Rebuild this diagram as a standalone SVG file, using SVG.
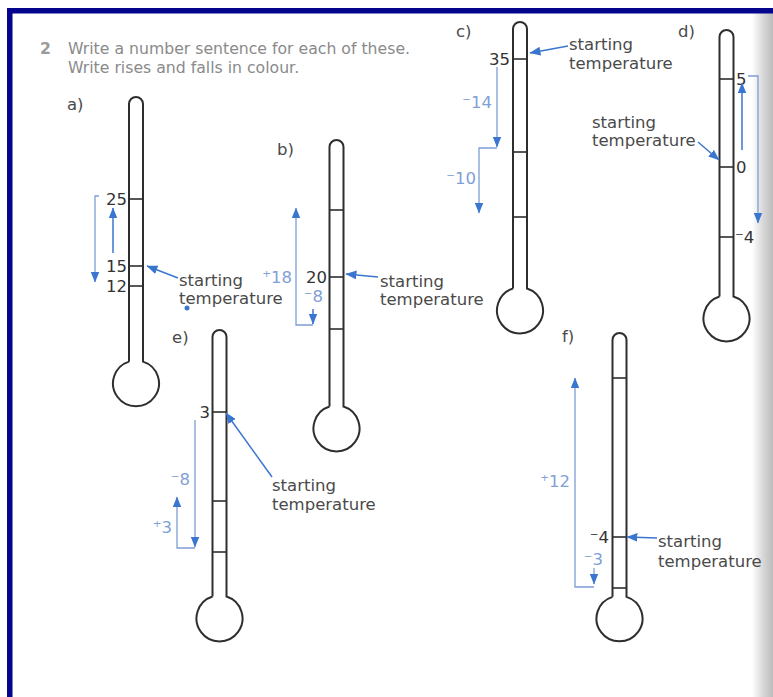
<svg xmlns="http://www.w3.org/2000/svg" width="773" height="697" viewBox="0 0 773 697">
<defs>
<linearGradient id="edge" x1="0" y1="0" x2="1" y2="0">
<stop offset="0" stop-color="#ffffff"/>
<stop offset="0.55" stop-color="#d6d6d6"/>
<stop offset="1" stop-color="#bcbcbc"/>
</linearGradient>
<marker id="ah" viewBox="0 0 10 8" refX="9.5" refY="4" markerWidth="11" markerHeight="9" markerUnits="userSpaceOnUse" orient="auto">
<path d="M0,0 L10,4 L0,8 Z" fill="#3a76cf"/>
</marker>
<path id="thermo" d="M-7,266.5 L-7,7 A7,7 0 0 1 7,7 L7,266.5 A23,23 0 1 1 -7,266.5" fill="none"/>
</defs>
<style>
.th{fill:none;stroke:#2e2e2e;stroke-width:2}
.tk{stroke:#2e2e2e;stroke-width:1.6}
.txt{font-family:"DejaVu Sans",sans-serif;font-size:16.5px;fill:#4a4a4a}
.num{font-family:"DejaVu Sans",sans-serif;font-size:16.5px;fill:#333}
.hd{font-family:"DejaVu Sans",sans-serif;font-size:15.7px;fill:#8a8a8a}
.bt{font-family:"DejaVu Sans",sans-serif;font-size:16.5px;fill:#7f9fd6}
.ba{fill:none;stroke:#3a76cf;stroke-width:1.5}
.bl{fill:none;stroke:#7d9dd6;stroke-width:1.3}
.end{text-anchor:end}
</style>
<rect x="0" y="0" width="773" height="697" fill="#ffffff"/>
<rect x="752" y="13" width="21" height="684" fill="url(#edge)"/>
<rect x="7" y="8" width="766" height="5.5" fill="#04058c"/>
<rect x="7" y="8" width="5.5" height="689" fill="#04058c"/>

<g id="header">
<text class="hd" x="40" y="54" style="font-weight:bold;fill:#9a9a9a">2</text>
<text class="hd" x="68" y="54">Write a number sentence for each of these.</text>
<text class="hd" x="68" y="73">Write rises and falls in colour.</text>
</g>

<g id="thermometer-a">
<text class="txt" x="67" y="110">a)</text>
<use href="#thermo" class="th" transform="translate(136,97) scale(1,0.993)"/>
<line class="tk" x1="129" y1="199" x2="143" y2="199"/>
<line class="tk" x1="129" y1="266" x2="143" y2="266"/>
<line class="tk" x1="129" y1="286" x2="143" y2="286"/>
<text class="num end" x="127" y="205">25</text>
<text class="num end" x="127" y="272">15</text>
<text class="num end" x="127" y="292">12</text>
<text class="txt" x="179" y="286">starting</text>
<text class="txt" x="179" y="304">temperature</text>
<circle cx="187" cy="308" r="2.5" fill="#3a76cf"/>
</g>

<g id="thermometer-b">
<text class="txt" x="277" y="155">b)</text>
<use href="#thermo" class="th" transform="translate(336.5,140)"/>
<line class="tk" x1="329.5" y1="210" x2="343.5" y2="210"/>
<line class="tk" x1="329.5" y1="277" x2="343.5" y2="277"/>
<line class="tk" x1="329.5" y1="329" x2="343.5" y2="329"/>
<text class="num end" x="327" y="283">20</text>
<text class="bt end" x="292" y="283">⁺18</text>
<text class="bt end" x="323" y="302">⁻8</text>
<text class="txt" x="380" y="287">starting</text>
<text class="txt" x="380" y="305">temperature</text>
</g>

<g id="thermometer-c">
<text class="txt" x="456" y="37">c)</text>
<use href="#thermo" class="th" transform="translate(520,22)"/>
<line class="tk" x1="513" y1="59" x2="527" y2="59"/>
<line class="tk" x1="513" y1="152" x2="527" y2="152"/>
<line class="tk" x1="513" y1="217" x2="527" y2="217"/>
<text class="num end" x="510" y="65">35</text>
<text class="bt end" x="492" y="108">⁻14</text>
<text class="bt end" x="476" y="184">⁻10</text>
<text class="txt" x="569" y="50">starting</text>
<text class="txt" x="569" y="69">temperature</text>
</g>

<g id="thermometer-d">
<text class="txt" x="678" y="37">d)</text>
<use href="#thermo" class="th" transform="translate(726.5,30)"/>
<line class="tk" x1="719.5" y1="79" x2="733.5" y2="79"/>
<line class="tk" x1="719.5" y1="167" x2="733.5" y2="167"/>
<line class="tk" x1="719.5" y1="237" x2="733.5" y2="237"/>
<text class="num" x="736" y="85">5</text>
<text class="num" x="736" y="173">0</text>
<text class="num" x="735" y="243">⁻4</text>
<text class="txt" x="592" y="128">starting</text>
<text class="txt" x="592" y="146">temperature</text>
</g>

<g id="thermometer-e">
<text class="txt" x="172" y="343">e)</text>
<use href="#thermo" class="th" transform="translate(219.5,330)"/>
<line class="tk" x1="212.5" y1="412" x2="226.5" y2="412"/>
<line class="tk" x1="212.5" y1="501" x2="226.5" y2="501"/>
<line class="tk" x1="212.5" y1="552" x2="226.5" y2="552"/>
<text class="num end" x="210" y="418">3</text>
<text class="bt end" x="190" y="485">⁻8</text>
<text class="bt end" x="172" y="533">⁺3</text>
<text class="txt" x="272" y="491">starting</text>
<text class="txt" x="272" y="510">temperature</text>
</g>

<g id="thermometer-f">
<text class="txt" x="562" y="342">f)</text>
<use href="#thermo" class="th" transform="translate(619.5,333) scale(1,0.99)"/>
<line class="tk" x1="612.5" y1="378" x2="626.5" y2="378"/>
<line class="tk" x1="612.5" y1="537" x2="626.5" y2="537"/>
<line class="tk" x1="612.5" y1="588" x2="626.5" y2="588"/>
<text class="num end" x="609" y="543">⁻4</text>
<text class="bt end" x="603" y="565">⁻3</text>
<text class="bt end" x="570" y="487">⁺12</text>
<text class="txt" x="658" y="547">starting</text>
<text class="txt" x="658" y="567">temperature</text>
</g>

<g id="connectors">
<!-- a -->
<path class="bl" d="M99,196 L95,196 L95,282" marker-end="url(#ah)"/>
<path class="ba" d="M113,253 L113,208" marker-end="url(#ah)"/>
<path class="ba" d="M178,278 L147,266" marker-end="url(#ah)"/>
<!-- b -->
<path class="ba" d="M313,309 L313,324" marker-end="url(#ah)"/>
<path class="bl" d="M313,325 L296,325 L296,208" marker-end="url(#ah)"/>
<path class="ba" d="M378,277 L346,274" marker-end="url(#ah)"/>
<!-- c -->
<path class="bl" d="M497,67 L497,147" marker-end="url(#ah)"/>
<path class="bl" d="M497,148 L479,148 L479,213" marker-end="url(#ah)"/>
<path class="ba" d="M568,46 L530,53" marker-end="url(#ah)"/>
<!-- d -->
<path class="bl" d="M748,76 L758,76 L758,223" marker-end="url(#ah)"/>
<path class="ba" d="M742,150 L742,83" marker-end="url(#ah)"/>
<path class="ba" d="M698,142 L719,160" marker-end="url(#ah)"/>
<!-- e -->
<path class="bl" d="M195,420 L195,547" marker-end="url(#ah)"/>
<path class="bl" d="M195,548 L177,548 L177,497" marker-end="url(#ah)"/>
<path class="ba" d="M272,477 L226,413" marker-end="url(#ah)"/>
<!-- f -->
<path class="bl" d="M594,568 L594,584" marker-end="url(#ah)"/>
<path class="bl" d="M594,587 L575,587 L575,378" marker-end="url(#ah)"/>
<path class="ba" d="M657,538 L627,537" marker-end="url(#ah)"/>
</g>
</svg>
